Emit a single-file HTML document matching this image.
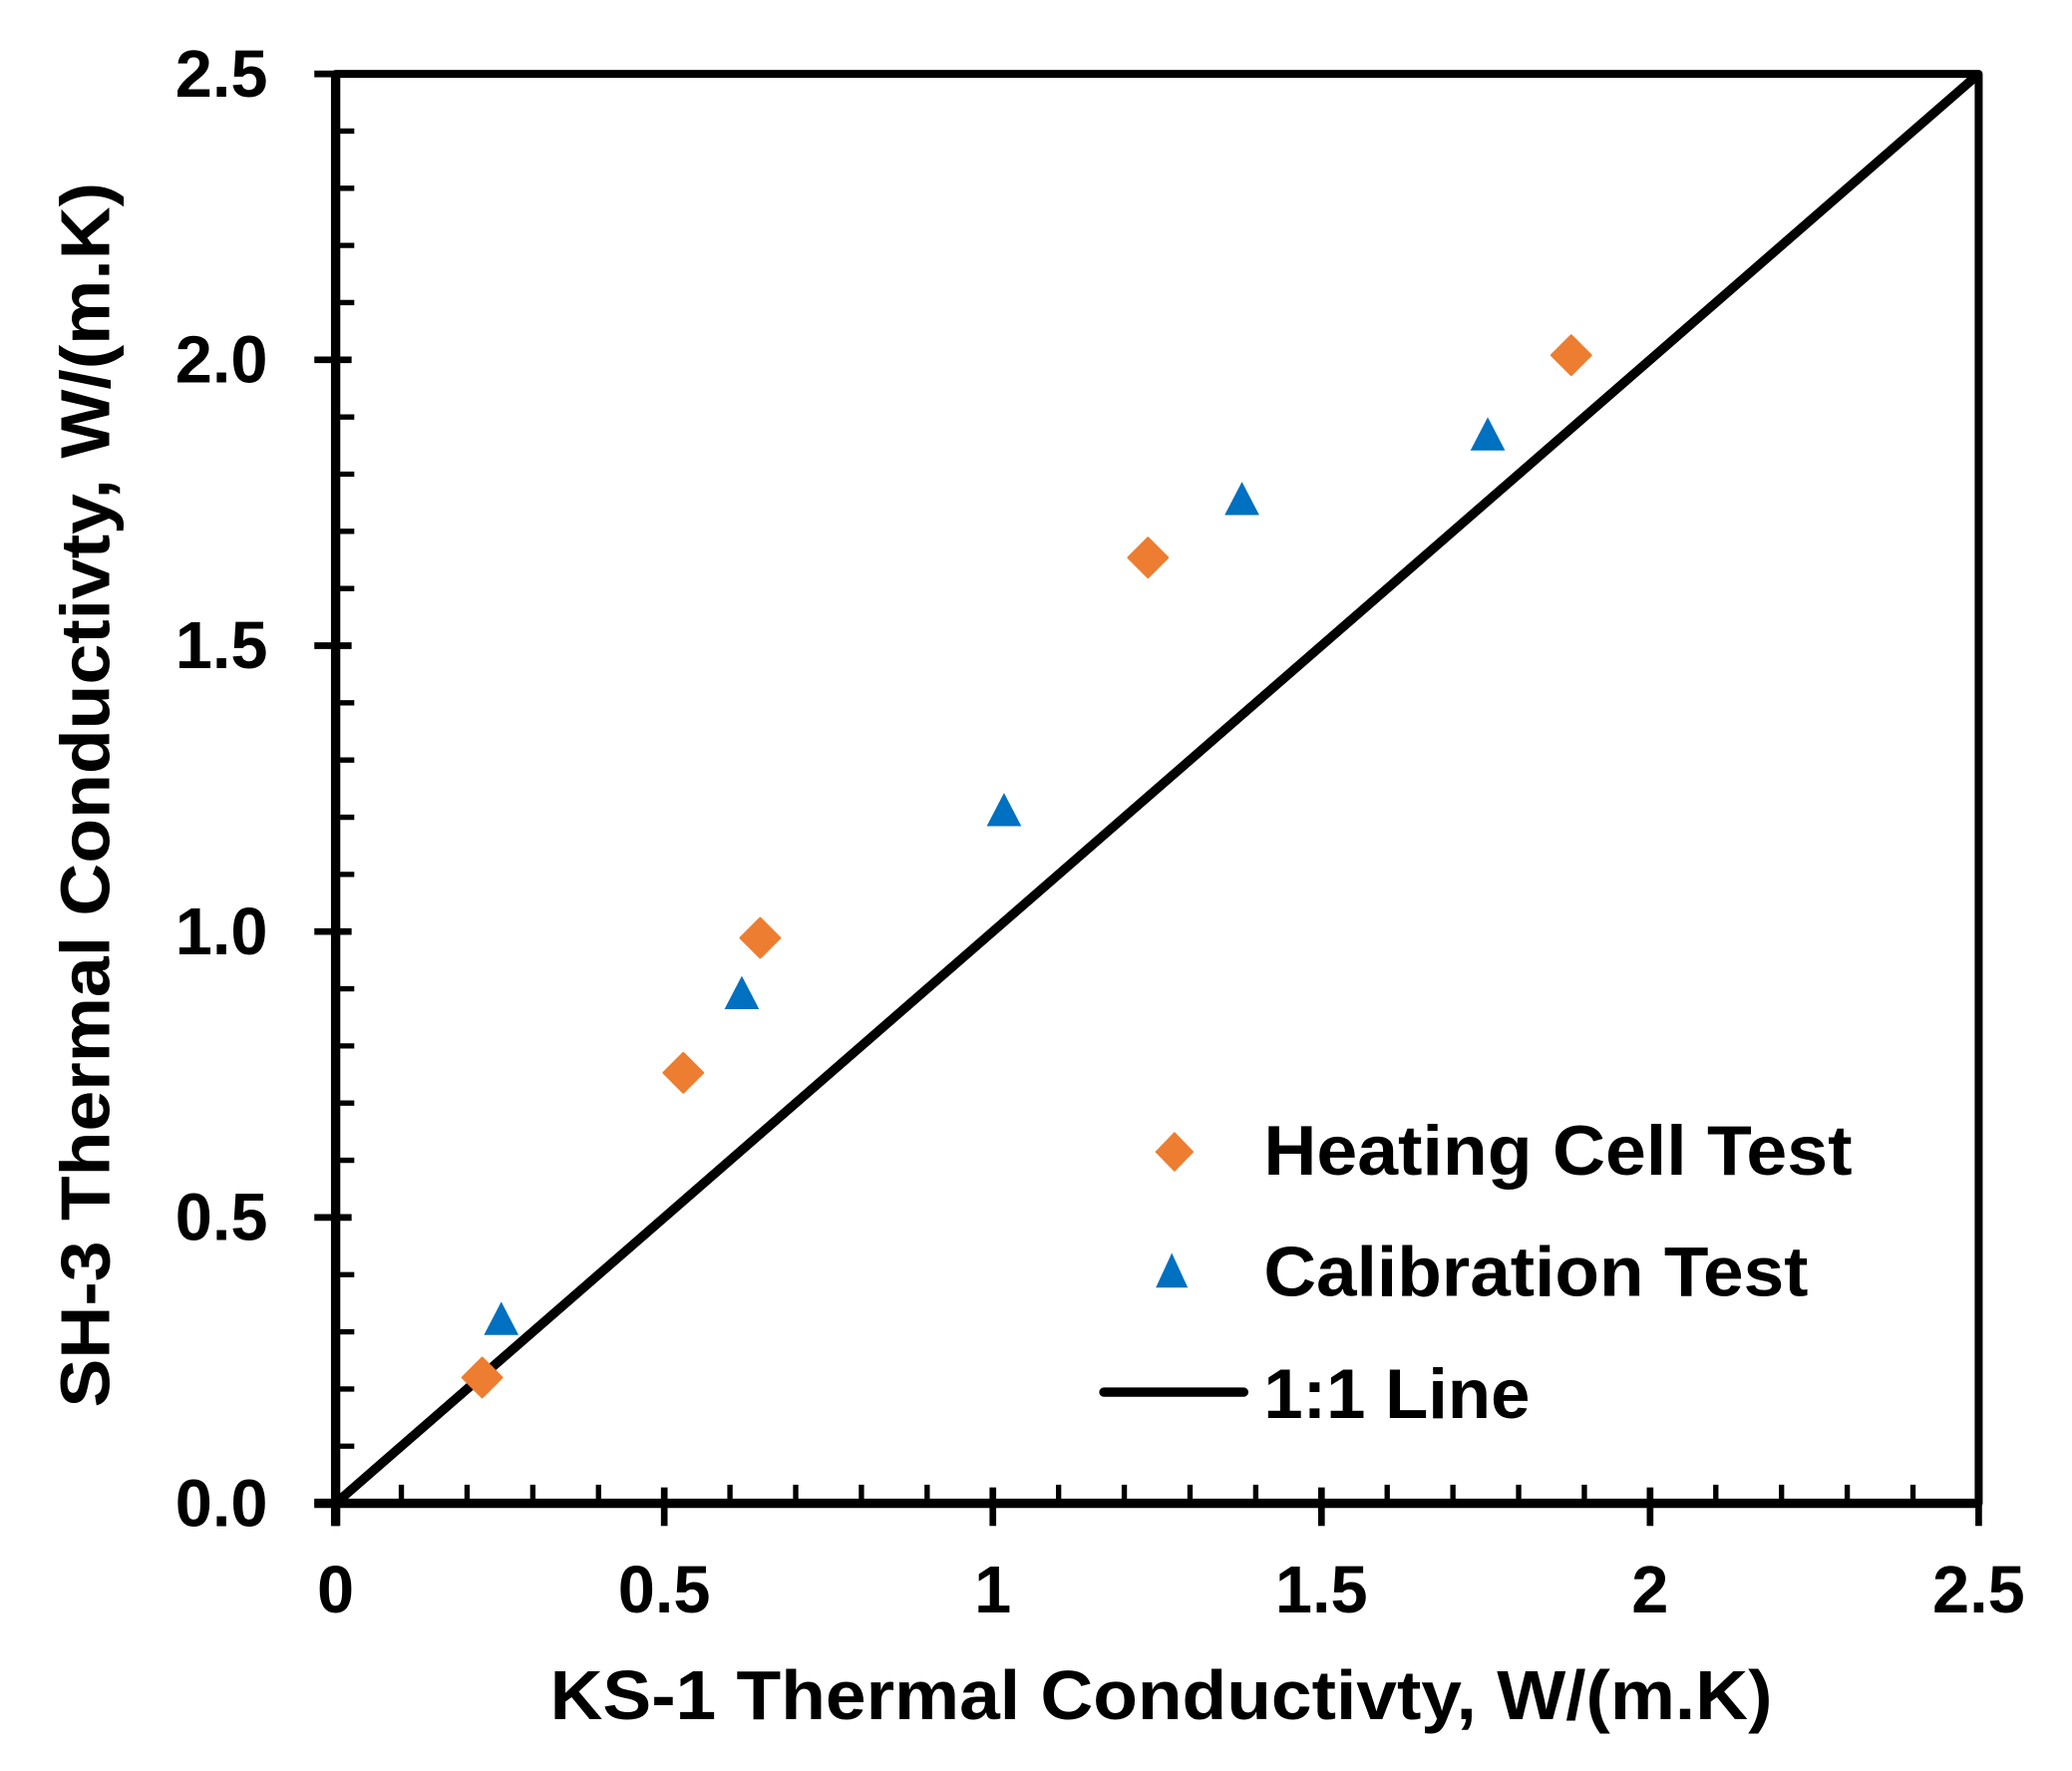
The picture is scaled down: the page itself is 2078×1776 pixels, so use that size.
<!DOCTYPE html>
<html><head><meta charset="utf-8"><style>
html,body{margin:0;padding:0;background:#fff}
svg{display:block}
text{font-family:"Liberation Sans",Arial,sans-serif;font-weight:bold;fill:#000}
</style></head><body>
<svg id="chart" width="2078" height="1776" viewBox="0 0 1556 1330" xmlns="http://www.w3.org/2000/svg">
<g id="axes"></g>
<g id="marks"></g>
<text x="413" y="1291" font-size="52" textLength="918" lengthAdjust="spacingAndGlyphs">KS-1 Thermal Conductivty,  W/(m.K)</text>
<text transform="translate(82,1057) rotate(-90)" font-size="52" textLength="920" lengthAdjust="spacingAndGlyphs">SH-3 Thermal Conductivty,  W/(m.K)</text>
<g>
  <path d="M882,850 L896.6,865 L882,880 L867.4,865 Z" fill="#ED7D31"/>
  <text x="949" y="882" font-size="53" textLength="442" lengthAdjust="spacingAndGlyphs">Heating Cell Test</text>
  <path d="M880,941 L892,967 L868,967 Z" fill="#0070C0"/>
  <text x="949" y="973" font-size="53" textLength="409" lengthAdjust="spacingAndGlyphs">Calibration Test</text>
  <line x1="829" y1="1045.5" x2="934" y2="1045.5" stroke="#000" stroke-width="7" stroke-linecap="round"/>
  <text x="949" y="1065" font-size="53" textLength="200" lengthAdjust="spacingAndGlyphs">1:1 Line</text>
</g>
</svg>
<script>
const heatingX=[0.223,0.529,0.646,1.236,1.880];
const heatingY=[0.22,0.753,0.989,1.654,2.008];
const calibX=[0.252,0.618,1.017,1.379,1.753];
const calibY=[0.32,0.89,1.21,1.754,1.867];
const xTicks=[0,0.5,1,1.5,2,2.5];
const xTickLabels=["0","0.5","1","1.5","2","2.5"];
const yTicks=[0,0.5,1,1.5,2,2.5];
const yTickLabels=["0.0","0.5","1.0","1.5","2.0","2.5"];
const lineX=[0,2.5];

const L=252,R=1486,T=55.5,B=1129;
function sx(v){return L+(v/2.5)*(R-L);}
function sy(v){return B-(v/2.5)*(B-T);}
const NS="http://www.w3.org/2000/svg";
const axes=document.getElementById('axes');
const marks=document.getElementById('marks');
function mk(tag,attrs,parent){const e=document.createElementNS(NS,tag);for(const k in attrs)e.setAttribute(k,attrs[k]);parent.appendChild(e);return e;}

for(let i=1;i<25;i++){
  if(i%5===0)continue;
  const v=i/10;
  const t1=mk('line',{x1:sx(v),y1:B,x2:sx(v),y2:B-14,stroke:'#000','stroke-width':4},axes);
  
  
  const t2=mk('line',{x1:L,y1:sy(v),x2:L+14,y2:sy(v),stroke:'#000','stroke-width':4},axes);
  
  
}
xTicks.forEach((v,i)=>{
  const t=mk('line',{x1:sx(v),y1:B-12,x2:sx(v),y2:B+17,stroke:'#000','stroke-width':5},axes);
  
  
  const lb=mk('text',{x:sx(v),y:1211,'font-size':50,'text-anchor':'middle'},axes);
  lb.textContent=xTickLabels[i];
  
  
});
yTicks.forEach((v,i)=>{
  const t=mk('line',{x1:L-16,y1:sy(v),x2:L+12,y2:sy(v),stroke:'#000','stroke-width':5},axes);
  
  
  const lb=mk('text',{x:201,y:sy(v)+17,'font-size':50,'text-anchor':'end'},axes);
  lb.textContent=yTickLabels[i];
  
  
});
const frame=mk('path',{d:`M${L},${B} L${L},${T} L${R},${T} L${R},${B} Z`,fill:'none',stroke:'#000','stroke-width':6,'stroke-linejoin':'round'},axes);


const xa=mk('line',{x1:L-16,y1:B,x2:R,y2:B,stroke:'#000','stroke-width':7},axes);


const ya=mk('line',{x1:L,y1:B+17,x2:L,y2:T,stroke:'#000','stroke-width':7},axes);



const ln=mk('line',{x1:sx(lineX[0]),y1:sy(lineX[0]),x2:sx(lineX[1]),y2:sy(lineX[1]),stroke:'#000','stroke-width':7},marks);



heatingX.forEach((x,i)=>{
  const cx=sx(x),cy=sy(heatingY[i]);
  const p=mk('path',{d:`M${cx},${cy-14.6} L${cx+14.6},${cy} L${cx},${cy+14.6} L${cx-14.6},${cy} Z`,fill:'#ED7D31','stroke':'#ED7D31','stroke-width':2,'stroke-linejoin':'round'},marks);
  
  
});
calibX.forEach((x,i)=>{
  const cx=sx(x),cy=sy(calibY[i]);
  const p=mk('path',{d:`M${cx},${cy-14} L${cx+13},${cy+11} L${cx-13},${cy+11} Z`,fill:'#0070C0'},marks);
  
  
});
</script>
</body></html>
